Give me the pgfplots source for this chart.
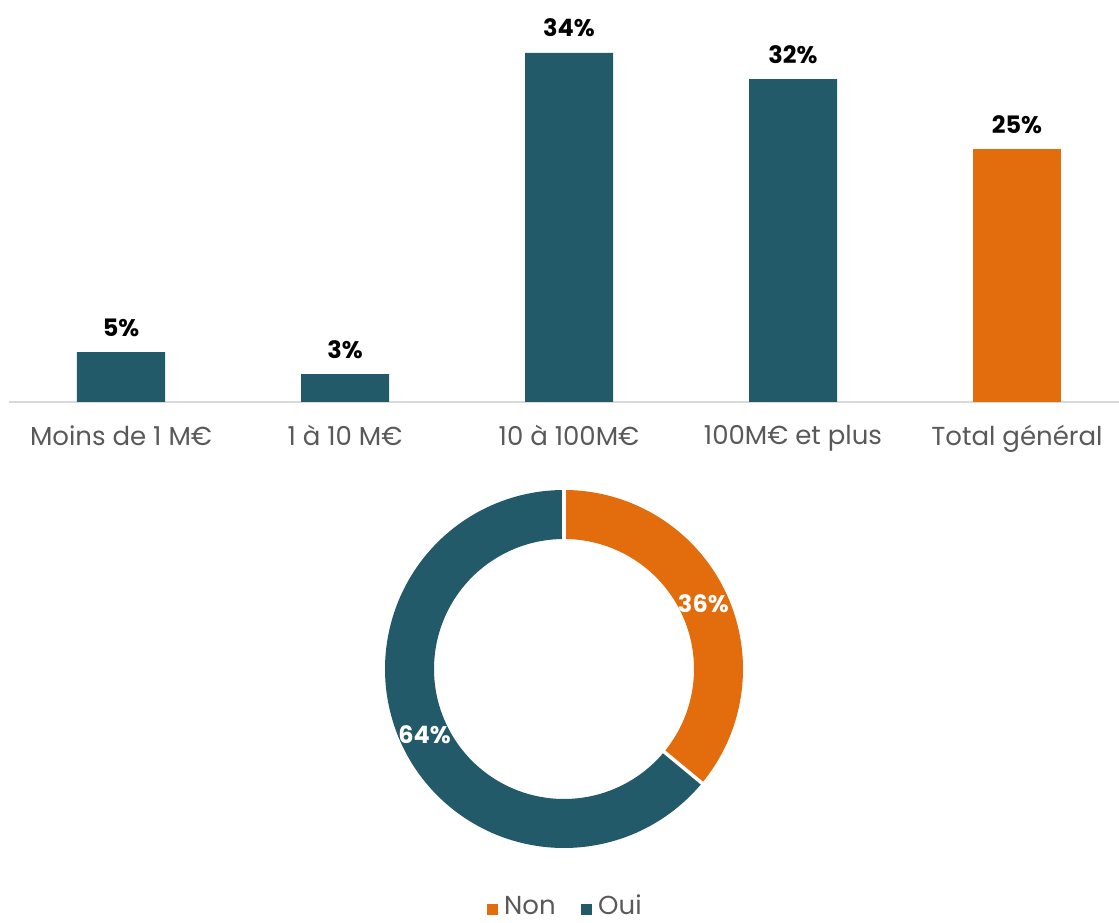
\documentclass[border=0pt]{standalone}
\usepackage{pgfplots}
\pgfplotsset{compat=1.18}
\usepgfplotslibrary{polar}
\usepackage{fontspec}
\setmainfont{Poppins}
\definecolor{teal}{HTML}{225A69}
\definecolor{orng}{HTML}{E36C0C}
\definecolor{txtgray}{HTML}{595959}
\definecolor{axgray}{HTML}{D9D9D9}
\begin{document}
\begin{tikzpicture}[x=1pt,y=1pt]
\useasboundingbox (0,0) rectangle (1119,923);
\begin{axis}[
  at={(9pt,521pt)}, anchor=south west,
  scale only axis, width=1120pt, height=402pt,
  xmin=-0.5, xmax=4.5, ymin=0, ymax=39.6,
  axis y line=none, axis x line*=bottom,
  x axis line style={axgray, line width=2pt, -},
  xtick={0,1,2,3,4}, major tick length=0pt,
  xticklabels={Moins de 1 M€, 1 à 10 M€, 10 à 100M€, 100M€ et plus, Total général},
  xticklabel style={font=\fontsize{26}{30}\selectfont, text=txtgray, yshift=-20pt},
  ybar, bar width=88pt, bar shift=0pt,
  clip=false,
  /pgf/number format/assume math mode=true,
  nodes near coords={\pgfmathprintnumber[fixed,precision=0,assume math mode=true]{\pgfplotspointmeta}\%},
  nodes near coords style={font=\fontsize{24}{28}\selectfont\bfseries, text=black, yshift=12pt},
  point meta=explicit,
]
\addplot[fill=teal, draw=none] coordinates {(0,4.9)[5] (1,2.75)[3] (2,34.4)[34] (3,31.8)[32]};
\addplot[fill=orng, draw=none] coordinates {(4,24.9)[25]};
\end{axis}
\begin{polaraxis}[
  at={(564pt,254pt)}, anchor=center,
  scale only axis, width=358pt, height=358pt,
  xmin=0, xmax=360, ymin=0, ymax=179,
  hide axis, clip=false,
]
% Non = 36 %, Oui = 64 %
\addplot[draw=orng, line width=49pt, domain=90-3.6*36:90, samples=120] {154.5};
\addplot[draw=teal, line width=49pt, domain=-270:90-3.6*36, samples=200] {154.5};
\addplot[draw=white, line width=3.5pt] coordinates {(90,125) (90,184)};
\addplot[draw=white, line width=3.5pt] coordinates {(90-3.6*36,125) (90-3.6*36,184)};
\node[font=\fontsize{24}{28}\selectfont\bfseries, text=white] at (axis cs:25.2,154) {36\%};
\node[font=\fontsize{24}{28}\selectfont\bfseries, text=white] at (axis cs:205.2,154) {64\%};
\end{polaraxis}
\fill[orng] (487,8) rectangle (498,19);
\node[anchor=base west, font=\fontsize{26}{30}\selectfont, text=txtgray, inner sep=0pt] at (504,8) {Non};
\fill[teal] (581,8) rectangle (592,19);
\node[anchor=base west, font=\fontsize{26}{30}\selectfont, text=txtgray, inner sep=0pt] at (598,8) {Oui};
\end{tikzpicture}
\end{document}
